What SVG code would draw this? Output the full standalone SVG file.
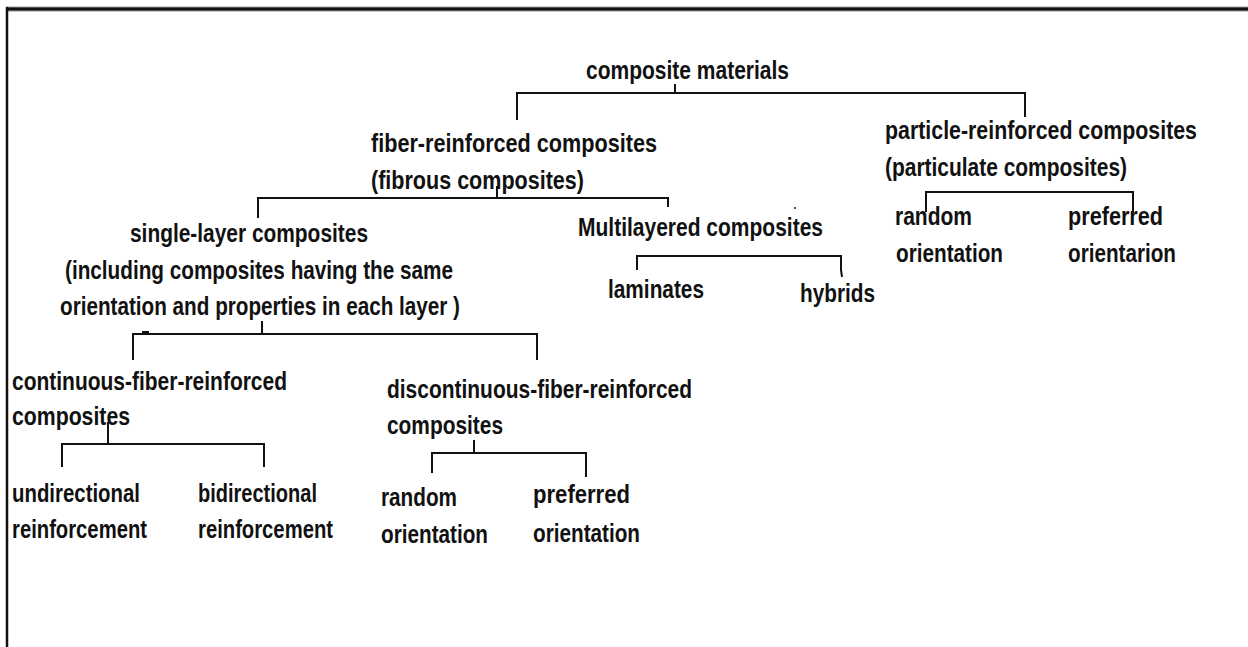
<svg xmlns="http://www.w3.org/2000/svg" width="1248" height="647" viewBox="0 0 1248 647">
<style>
text{font-family:"Liberation Sans",Arial,sans-serif;font-weight:bold;font-size:25px;fill:#111;}
.c{stroke:#111;stroke-width:2;fill:none;}
</style>
<rect x="0" y="0" width="1248" height="647" fill="#fff"/>
<g id="frame">
<line x1="6" y1="9" x2="1248" y2="9" stroke="#999" stroke-width="5"/>
<line x1="6" y1="9" x2="1248" y2="9" stroke="#111" stroke-width="3"/>
<line x1="7" y1="7" x2="7" y2="647" stroke="#111" stroke-width="2.5"/>
</g>
<g id="connectors">
<path class="c" d="M675 84V93M517 120V93H1025V117"/>
<path class="c" d="M497 186V198M258 218V198H668V207"/>
<path class="c" d="M926 212V192H1133V213"/>
<path class="c" d="M637 270V256H841V270L842 277"/>
<path class="c" d="M262 321V334M133 360V334H537V360"/>
<path class="c" d="M108 422V444M62 467V444H264V467"/>
<path class="c" d="M474 440V453M432 473V453H586V477"/>
<rect x="142" y="331" width="7" height="2" fill="#111"/>
<rect x="794" y="207" width="2" height="2" fill="#555"/>
</g>
<g id="n-composite"><text x="586" y="79" textLength="203" lengthAdjust="spacingAndGlyphs">composite materials</text></g>
<g id="n-fiber">
<text x="371" y="152" textLength="286" lengthAdjust="spacingAndGlyphs">fiber-reinforced composites</text>
<text x="371" y="189" textLength="213" lengthAdjust="spacingAndGlyphs">(fibrous composites)</text>
</g>
<g id="n-particle">
<text x="885" y="139" textLength="312" lengthAdjust="spacingAndGlyphs">particle-reinforced composites</text>
<text x="885" y="176" textLength="242" lengthAdjust="spacingAndGlyphs">(particulate composites)</text>
</g>
<g id="n-p-random">
<text x="895" y="225" textLength="77" lengthAdjust="spacingAndGlyphs">random</text>
<text x="896" y="262" textLength="107" lengthAdjust="spacingAndGlyphs">orientation</text>
</g>
<g id="n-p-preferred">
<text x="1068" y="225" textLength="95" lengthAdjust="spacingAndGlyphs">preferred</text>
<text x="1068" y="262" textLength="108" lengthAdjust="spacingAndGlyphs">orientarion</text>
</g>
<g id="n-single">
<text x="130" y="242" textLength="238" lengthAdjust="spacingAndGlyphs">single-layer composites</text>
<text x="65" y="279" textLength="388" lengthAdjust="spacingAndGlyphs">(including composites having the same</text>
<text x="60" y="315" textLength="400" lengthAdjust="spacingAndGlyphs">orientation and properties in each layer )</text>
</g>
<g id="n-multi"><text x="578" y="236" textLength="245" lengthAdjust="spacingAndGlyphs">Multilayered composites</text></g>
<g id="n-laminates"><text x="608" y="298" textLength="96" lengthAdjust="spacingAndGlyphs">laminates</text></g>
<g id="n-hybrids"><text x="800" y="302" textLength="75" lengthAdjust="spacingAndGlyphs">hybrids</text></g>
<g id="n-continuous">
<text x="12" y="390" textLength="275" lengthAdjust="spacingAndGlyphs">continuous-fiber-reinforced</text>
<text x="12" y="425" textLength="118" lengthAdjust="spacingAndGlyphs">composites</text>
</g>
<g id="n-undirectional">
<text x="12" y="502" textLength="128" lengthAdjust="spacingAndGlyphs">undirectional</text>
<text x="12" y="538" textLength="135" lengthAdjust="spacingAndGlyphs">reinforcement</text>
</g>
<g id="n-bidirectional">
<text x="198" y="502" textLength="119" lengthAdjust="spacingAndGlyphs">bidirectional</text>
<text x="198" y="538" textLength="135" lengthAdjust="spacingAndGlyphs">reinforcement</text>
</g>
<g id="n-discontinuous">
<text x="387" y="398" textLength="305" lengthAdjust="spacingAndGlyphs">discontinuous-fiber-reinforced</text>
<text x="387" y="434" textLength="116" lengthAdjust="spacingAndGlyphs">composites</text>
</g>
<g id="n-d-random">
<text x="381" y="506" textLength="76" lengthAdjust="spacingAndGlyphs">random</text>
<text x="381" y="543" textLength="107" lengthAdjust="spacingAndGlyphs">orientation</text>
</g>
<g id="n-d-preferred">
<text x="533" y="503" textLength="97" lengthAdjust="spacingAndGlyphs">preferred</text>
<text x="533" y="542" textLength="107" lengthAdjust="spacingAndGlyphs">orientation</text>
</g>
</svg>
